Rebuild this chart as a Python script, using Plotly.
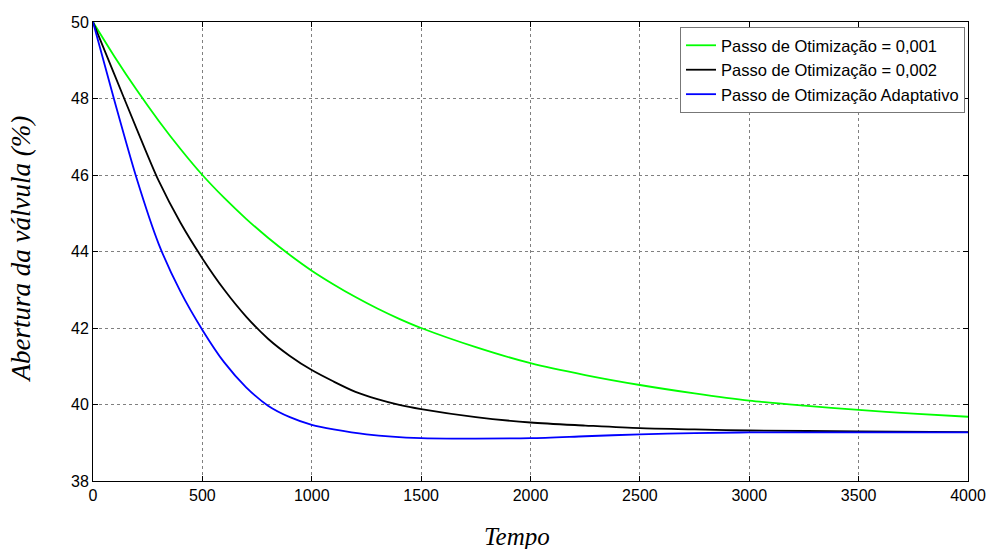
import plotly.graph_objects as go

# Green: Passo de Otimização = 0,001
t_green = [0, 100, 200, 300, 400, 500, 600, 700, 800, 900, 1000, 1100, 1200, 1300, 1400, 1500,
           1750, 2000, 2250, 2500, 2750, 3000, 3250, 3500, 3750, 4000]
v_green = [50.0, 49.08, 48.22, 47.42, 46.68, 46.0, 45.4, 44.855, 44.36, 43.91, 43.5, 43.14,
           42.81, 42.51, 42.24, 42.0, 41.5, 41.08, 40.77, 40.51, 40.29, 40.1, 39.97, 39.86,
           39.76, 39.68]

# Black: Passo de Otimização = 0,002
t_black = [0, 100, 200, 300, 400, 500, 600, 700, 800, 900, 1000, 1100, 1200, 1300, 1400,
           1500, 1750, 2000, 2250, 2500, 2750, 3000, 3500, 4000]
v_black = [50.0, 48.6, 47.2, 45.85, 44.75, 43.82, 43.0, 42.3, 41.72, 41.27, 40.9, 40.6,
           40.33, 40.14, 39.99, 39.88, 39.67, 39.53, 39.45, 39.38, 39.35, 39.32, 39.3, 39.28]

# Blue: Passo de Otimização Adaptativo
t_blue = [0, 100, 200, 300, 400, 500, 600, 700, 800, 900, 1000, 1100, 1250, 1500, 1750,
          2000, 2250, 2500, 2750, 3000, 4000]
v_blue = [50.0, 47.9, 45.9, 44.2, 42.95, 41.95, 41.1, 40.45, 39.97, 39.67, 39.47, 39.35,
          39.22, 39.12, 39.11, 39.12, 39.17, 39.22, 39.25, 39.27, 39.27]

x_ticks = [0, 500, 1000, 1500, 2000, 2500, 3000, 3500, 4000]
y_ticks = [38, 40, 42, 44, 46, 48, 50]

series_names = ["Passo de Otimização = 0,001", "Passo de Otimização = 0,002",
                "Passo de Otimização Adaptativo"]

fig = go.Figure()
fig.add_trace(go.Scatter(x=t_green, y=v_green, mode="lines", name=series_names[0],
                         line=dict(color="#00ff00", width=1.8, shape="spline", smoothing=0.8)))
fig.add_trace(go.Scatter(x=t_black, y=v_black, mode="lines", name=series_names[1],
                         line=dict(color="#000000", width=1.8, shape="spline", smoothing=0.8)))
fig.add_trace(go.Scatter(x=t_blue, y=v_blue, mode="lines", name=series_names[2],
                         line=dict(color="#0000ff", width=1.8, shape="spline", smoothing=0.8)))

tick_font = dict(family="Liberation Sans, Arial, sans-serif", size=16, color="#000000")
axis_common = dict(showline=True, linecolor="#000000", linewidth=1, mirror="ticks",
                   ticks="inside", ticklen=5, tickcolor="#000000", showgrid=True,
                   gridcolor="#808080", griddash="dot", gridwidth=1, zeroline=False,
                   tickfont=tick_font, automargin=False)

fig.update_xaxes(range=[0, 4000], tickvals=x_ticks, ticktext=[str(v) for v in x_ticks],
                 **axis_common)
fig.update_yaxes(range=[38, 50], tickvals=y_ticks, ticktext=[str(v) for v in y_ticks],
                 **axis_common)

fig.update_layout(
    width=987, height=549,
    margin=dict(l=93, r=19, t=22, b=68, autoexpand=False),
    plot_bgcolor="#ffffff", paper_bgcolor="#ffffff",
    showlegend=True,
    legend=dict(x=0.9966, y=0.989, xanchor="right", yanchor="top",
                bgcolor="#ffffff", bordercolor="#777777", borderwidth=1,
                font=dict(family="Liberation Sans, Arial, sans-serif", size=16.5, color="#000000"),
                tracegroupgap=0),
    annotations=[
        dict(text="<i>Tempo</i>", xref="paper", yref="paper", x=0.4846, y=-0.122,
             xanchor="center", yanchor="middle", showarrow=False,
             font=dict(family="Liberation Serif, Times New Roman, serif", size=25, color="#000000")),
        dict(text="<i>Abertura da válvula (%)</i>", xref="paper", yref="paper",
             x=-0.0817, y=0.5054, xanchor="center", yanchor="middle", textangle=-90,
             showarrow=False,
             font=dict(family="Liberation Serif, Times New Roman, serif", size=27, color="#000000")),
    ],
)

fig.write_html("out.html", config={"displayModeBar": False},
               post_script="document.body.style.margin='0';document.body.style.overflow='hidden';")
